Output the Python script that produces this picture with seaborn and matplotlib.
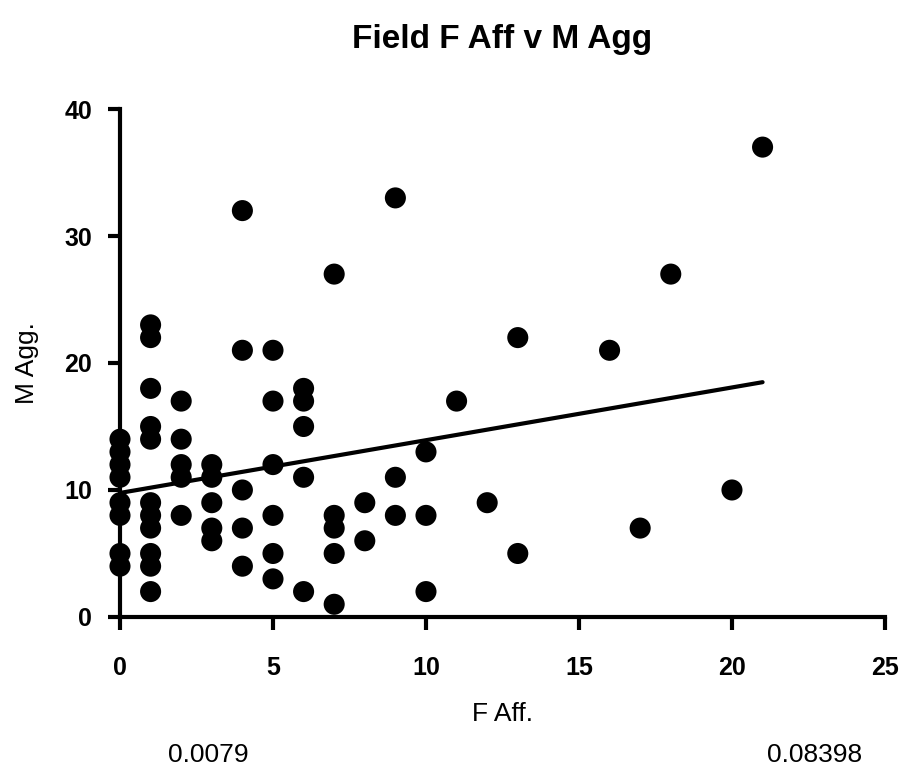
import matplotlib
matplotlib.use("Agg")
import matplotlib.pyplot as plt
import seaborn as sns
import pandas as pd

# ---- data ----
f_aff = ([0] * 8 + [1] * 11 + [2] * 5 + [3] * 5 + [4] * 5 + [5] * 6 + [6] * 5 + [7] * 5
         + [8] * 2 + [9] * 3 + [10] * 3 + [11, 12, 13, 13, 16, 17, 18, 20, 21])
m_agg = ([14, 13, 12, 11, 9, 8, 5, 4]
         + [23, 22, 18, 15, 14, 9, 8, 7, 5, 4, 2]
         + [17, 14, 12, 11, 8]
         + [12, 11, 9, 7, 6]
         + [32, 21, 10, 7, 4]
         + [21, 17, 12, 8, 5, 3]
         + [18, 17, 15, 11, 2]
         + [27, 8, 7, 5, 1]
         + [9, 6]
         + [33, 11, 8]
         + [13, 8, 2]
         + [17, 9, 22, 5, 21, 7, 27, 10, 37])
x_ticks = [0, 5, 10, 15, 20, 25]
y_ticks = [0, 10, 20, 30, 40]
title = "Field F Aff v M Agg"
x_label = "F Aff."
y_label = "M Agg."
left_note = "0.0079"
right_note = "0.08398"

df = pd.DataFrame({"F Aff.": f_aff, "M Agg.": m_agg})

sns.set_style("ticks")
plt.rcParams["font.family"] = ["Liberation Sans", "DejaVu Sans"]
plt.rcParams["text.color"] = "black"
plt.rcParams["axes.labelcolor"] = "black"
plt.rcParams["xtick.color"] = "black"
plt.rcParams["ytick.color"] = "black"

fig = plt.figure(figsize=(9.07, 7.72), dpi=100)
ax = fig.add_axes([0.1323, 0.2008, 0.8434, 0.6580])

sns.regplot(data=df, x="F Aff.", y="M Agg.", ax=ax, ci=None, truncate=True,
            scatter_kws=dict(s=230, color="black", edgecolor="none", alpha=1, clip_on=False, zorder=3),
            line_kws=dict(color="black", lw=3, zorder=4))

ax.set_xlim(0, 25)
ax.set_ylim(0, 40)
ax.set_xticks(x_ticks)
ax.set_yticks(y_ticks)
ax.set_xticklabels([str(t) for t in x_ticks], fontsize=18, fontweight="bold")
ax.set_yticklabels([str(t) for t in y_ticks], fontsize=18, fontweight="bold")
ax.tick_params(axis="both", direction="out", length=9, width=3, color="black",
               labelcolor="black")
ax.tick_params(axis="x", pad=19)
ax.tick_params(axis="y", pad=11)
for side in ["top", "right"]:
    ax.spines[side].set_visible(False)
for side in ["left", "bottom"]:
    ax.spines[side].set_linewidth(3)
    ax.spines[side].set_color("black")

ax.set_xlabel(x_label, fontsize=19, labelpad=16, color="black")
ax.set_ylabel(y_label, fontsize=19, labelpad=18, color="black")
ax.set_title(title, fontsize=24, fontweight="bold", pad=44, color="black")

fig.text(208 / 907, 1 - 755 / 772, left_note, fontsize=19, ha="center", va="center", color="black")
fig.text(815 / 907, 1 - 755 / 772, right_note, fontsize=19, ha="center", va="center", color="black")

fig.savefig("out.png", dpi=100, facecolor="white")
